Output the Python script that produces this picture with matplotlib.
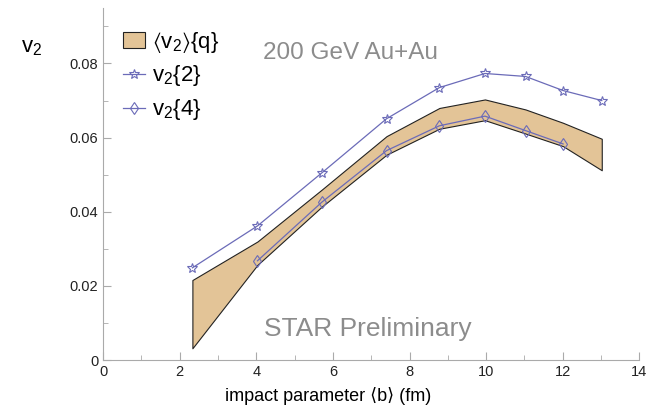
import matplotlib
matplotlib.use("Agg")
import matplotlib.pyplot as plt
from matplotlib.patches import Patch
from matplotlib.lines import Line2D

plt.rcParams['font.family'] = ['Liberation Sans', 'DejaVu Sans']
plt.rcParams['mathtext.default'] = 'regular'

# v2{2}
b_v22 = [2.33, 4.03, 5.71, 7.40, 8.78, 9.97, 11.03, 12.01, 13.02]
v22 = [0.0249, 0.0362, 0.0505, 0.0651, 0.0735, 0.0773, 0.0765, 0.0727, 0.0700]

# v2{4}
b_v24 = [4.03, 5.71, 7.40, 8.78, 9.97, 11.03, 12.01]
v24 = [0.0268, 0.0426, 0.0565, 0.0632, 0.0658, 0.0619, 0.0583]

# <v2>{q} band
b_band = [2.33, 4.03, 5.71, 7.40, 8.78, 9.97, 11.03, 12.01, 13.02]
band_hi = [0.0216, 0.0320, 0.0460, 0.0604, 0.0680, 0.0703, 0.0676, 0.0640, 0.0597]
band_lo = [0.0032, 0.0257, 0.0414, 0.0554, 0.0624, 0.0647, 0.0611, 0.0577, 0.0512]

line_col = '#6b6bb8'
fill_col = '#e3c497'
spine_col = '#aaaaaa'

fig = plt.figure(figsize=(6.53, 4.13), dpi=100)
ax = fig.add_axes([0.158, 0.128, 0.821, 0.853])

ax.fill_between(b_band, band_lo, band_hi, facecolor=fill_col, edgecolor='#222222',
                linewidth=0.8, zorder=1)
ax.plot(b_v22, v22, color=line_col, lw=0.9, marker='*', ms=7, mfc='none',
        mec=line_col, mew=0.8, zorder=3)
ax.plot(b_v24, v24, color=line_col, lw=0.9, marker='d', ms=6, mfc='none',
        mec=line_col, mew=0.8, zorder=3)

ax.set_xlim(0, 14)
ax.set_ylim(0, 0.095)
ax.set_xticks(range(0, 15, 2))
ax.set_xticks(range(1, 14, 2), minor=True)
ax.set_yticks([0, 0.02, 0.04, 0.06, 0.08])
ax.set_yticklabels(['0', '0.02', '0.04', '0.06', '0.08'])
ax.set_yticks([0.01, 0.03, 0.05, 0.07, 0.09], minor=True)
ax.tick_params(which='both', direction='in', color=spine_col, labelsize=10.5,
               labelcolor='#222222')
ax.tick_params(which='major', length=6)
ax.tick_params(which='minor', length=3.5)
for s in ['top', 'right']:
    ax.spines[s].set_visible(False)
for s in ['left', 'bottom']:
    ax.spines[s].set_color(spine_col)

ax.set_xlabel(r'impact parameter ⟨b⟩ (fm)', fontsize=13)
ax.xaxis.set_label_coords(0.42, -0.075)
fig.text(0.048, 0.885, 'v$_2$', fontsize=16, ha='center', va='center')

ax.text(6.47, 0.0827, '200 GeV Au+Au', fontsize=17.5, color='#8c8c8c', ha='center', va='center')
ax.text(6.9, 0.0085, 'STAR Preliminary', fontsize=19, color='#8c8c8c', ha='center', va='center')

handles = [
    Patch(facecolor=fill_col, edgecolor='#222222', linewidth=0.8),
    Line2D([], [], color=line_col, lw=0.9, marker='*', ms=7, mfc='none', mew=0.8),
    Line2D([], [], color=line_col, lw=0.9, marker='d', ms=6, mfc='none', mew=0.8),
]
labels = [r'$\langle$v$_2$$\rangle${q}', 'v$_2${2}', 'v$_2${4}']
ax.legend(handles, labels, loc='upper left', bbox_to_anchor=(0.0, 0.995), frameon=False,
          fontsize=16, handlelength=1.0, handletextpad=0.3, labelspacing=0.4)

fig.savefig('out.png', dpi=100)
